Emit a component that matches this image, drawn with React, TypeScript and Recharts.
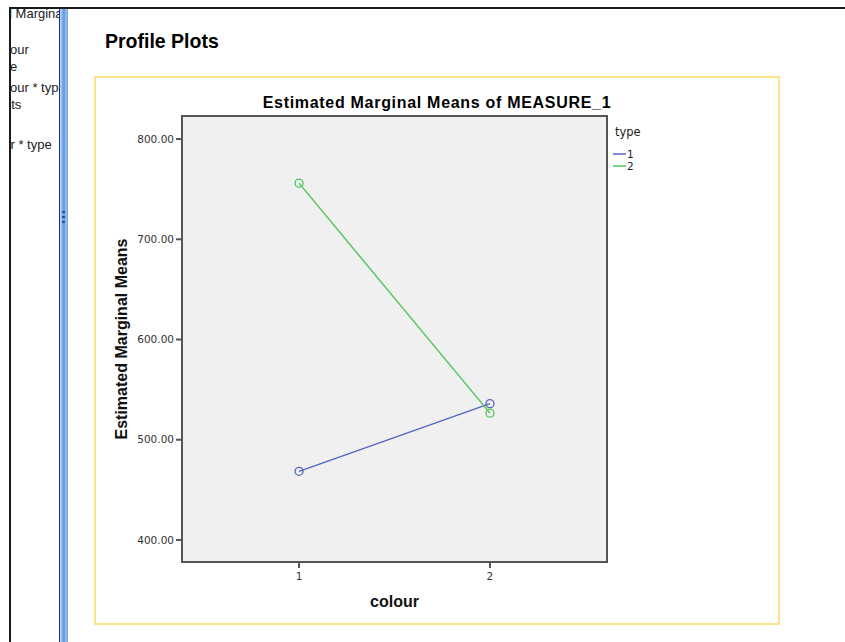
import {
  Line,
  LineChart,
  ReferenceArea,
  XAxis,
  YAxis,
} from "recharts";

// estimated marginal means
const colours = [1, 2];
const type1Means = [468.5, 536];
const type2Means = [756, 526.5];
const yTicks = [400, 500, 600, 700, 800];
const xTicks = [1, 2];
const seriesNames = ["1", "2"];
const seriesColors = ["#5464c4", "#4fc45a"];

// outline tree entries on the left pane (clipped by the splitter), page coords
const outlineItems = [
  { text: "ed Marginal Means", left: -2.5, cy: 14 },
  { text: "colour", left: -6.6, cy: 50 },
  { text: "type", left: -7.3, cy: 67 },
  { text: "colour * type", left: -6.6, cy: 88 },
  { text: "Profile Plots", left: -48, cy: 105 },
  { text: "colour * type", left: -20.6, cy: 145 },
];

const X_DOMAIN: [number, number] = [0.387, 2.613];
const Y_DOMAIN: [number, number] = [378, 823];

const chartData = colours.map((c, i) => ({
  colour: c,
  t1: type1Means[i],
  t2: type2Means[i],
}));

const arial = "'Liberation Sans', Arial, sans-serif";
const dejavu = "'DejaVu Sans', sans-serif";

function TypeLegend() {
  return (
    <div style={{ fontFamily: dejavu, color: "#222" }}>
      <div style={{ marginLeft: 2, fontSize: 11.5, lineHeight: "14px" }}>type</div>
      <div style={{ height: 9 }} />
      {seriesNames.map((name, i) => (
        <div key={name} style={{ display: "flex", alignItems: "center", height: 12 }}>
          <svg width={14} height={12}>
            <line x1={0} x2={13} y1={6} y2={6} stroke={seriesColors[i]} strokeWidth={1.5} />
          </svg>
          <span style={{ fontSize: 10.5, lineHeight: "12px" }}>{name}</span>
        </div>
      ))}
    </div>
  );
}

export default function App() {
  return (
    <div style={{ position: "absolute", left: 0, top: 0, width: 845, height: 642, background: "#fff", overflow: "hidden" }}>
      {/* outline pane */}
      <div style={{ position: "absolute", left: 11, top: 0, width: 48, height: 642, overflow: "hidden", fontFamily: arial, fontSize: 13, color: "#222" }}>
        {outlineItems.map((it, i) => (
          <div key={i} style={{ position: "absolute", left: it.left - 11, top: it.cy - 7, whiteSpace: "nowrap", lineHeight: "14px" }}>
            {it.text}
          </div>
        ))}
      </div>

      {/* window frame */}
      <div style={{ position: "absolute", left: 9, top: 7, width: 836, height: 2, background: "#1a1a1a" }} />
      <div style={{ position: "absolute", left: 9, top: 7, width: 2, height: 635, background: "#1a1a1a" }} />

      {/* splitter */}
      <div
        style={{
          position: "absolute",
          left: 59,
          top: 9,
          width: 9,
          height: 633,
          background: "linear-gradient(to right, #1c2a9a 0px, #1c2a9a 1px, #c4dcf6 1px, #8ab6ea 3px, #5f95dc 5px, #9cc2ee 7px, #6f9fdf 9px)",
        }}
      />
      {[211, 216, 221].map((y) => (
        <div key={y} style={{ position: "absolute", left: 62, top: y, width: 3, height: 2, background: "#2a4a9a" }} />
      ))}

      <div style={{ position: "absolute", left: 105, top: 31, fontFamily: arial, fontWeight: 700, fontSize: 19.5, lineHeight: "20px", color: "#000" }}>
        Profile Plots
      </div>

      {/* yellow chart frame */}
      <div style={{ position: "absolute", left: 94, top: 76, width: 682, height: 545, border: "2px solid #fde48c" }} />

      <div style={{ position: "absolute", left: 95, top: 94, width: 684, textAlign: "center", fontFamily: arial, fontWeight: 700, fontSize: 16, letterSpacing: 0.7, lineHeight: "17px", color: "#000" }}>
        Estimated Marginal Means of MEASURE_1
      </div>

      <div style={{ position: "absolute", left: 613, top: 125 }}>
        <TypeLegend />
      </div>

      <div style={{ position: "absolute", left: 95, top: 77 }}>
        <LineChart
          width={684}
          height={547}
          data={chartData}
          margin={{ top: 39, right: 172, left: 27, bottom: 32 }}
          style={{ fontFamily: arial }}
        >
          <ReferenceArea
            x1={X_DOMAIN[0]}
            x2={X_DOMAIN[1]}
            y1={Y_DOMAIN[0]}
            y2={Y_DOMAIN[1]}
            fill="#f0f0f0"
            fillOpacity={1}
            stroke="#555"
            strokeWidth={2}
          />
          <XAxis
            dataKey="colour"
            type="number"
            domain={X_DOMAIN}
            ticks={xTicks}
            allowDataOverflow
            height={30}
            tickSize={6}
            tickMargin={5}
            stroke="#555"
            strokeWidth={2}
            tick={{ fontSize: 10.5, fill: "#333", fontFamily: dejavu }}
            label={{ value: "colour", position: "center", dy: 24, fontSize: 16, fontWeight: 700, fill: "#111", fontFamily: arial }}
          />
          <YAxis
            type="number"
            domain={Y_DOMAIN}
            ticks={yTicks}
            allowDataOverflow
            width={60}
            tickSize={6}
            stroke="#555"
            strokeWidth={2}
            tickFormatter={(v: number) => v.toFixed(2)}
            tick={{ fontSize: 10.5, fill: "#333", fontFamily: dejavu }}
            label={{ value: "Estimated Marginal Means", angle: -90, position: "center", dx: -31, fontSize: 16, fontWeight: 700, fill: "#111", fontFamily: arial }}
          />
          <Line
            dataKey="t1"
            name={seriesNames[0]}
            stroke={seriesColors[0]}
            strokeWidth={1.4}
            dot={{ r: 4, fill: "none", stroke: seriesColors[0], strokeWidth: 1.3 }}
            isAnimationActive={false}
          />
          <Line
            dataKey="t2"
            name={seriesNames[1]}
            stroke={seriesColors[1]}
            strokeWidth={1.4}
            dot={{ r: 4, fill: "none", stroke: seriesColors[1], strokeWidth: 1.3 }}
            isAnimationActive={false}
          />
        </LineChart>
      </div>
    </div>
  );
}
